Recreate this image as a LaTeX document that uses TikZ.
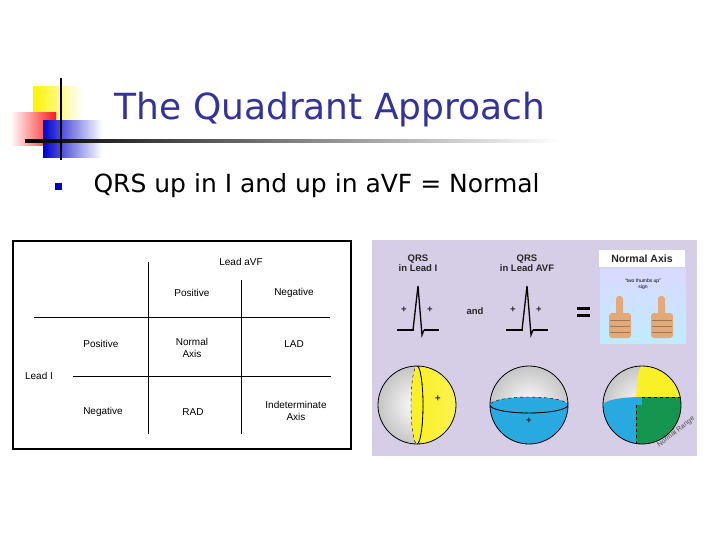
\documentclass[tikz,border=0pt]{standalone}
\usepackage{fontspec}
\setmainfont{Liberation Sans}
\newfontfamily\slidefont{DejaVu Sans}
\usetikzlibrary{calc}

\definecolor{titleblue}{RGB}{51,51,153}
\definecolor{panel}{RGB}{214,206,230}
\definecolor{ballblue}{RGB}{40,170,225}
\definecolor{ballyellow}{RGB}{250,240,40}
\definecolor{ballgreen}{RGB}{20,150,80}
\definecolor{skin}{RGB}{225,170,120}

\tikzset{
  cell/.style={font=\fontsize{10}{12}\selectfont, align=center},
  grid/.style={line width=0.8pt},
  qrs/.style={line width=1.3pt},
  qrsbase/.style={line width=2.6pt},
  lbl/.style={font=\bfseries\fontsize{9.5}{10.5}\selectfont, align=center, text=black!85},
}

\begin{document}
\begin{tikzpicture}[x=1pt,y=-1pt]
  \useasboundingbox (0,0) rectangle (720,540);

  % logo
  \shade[left color=yellow!90!orange, right color=white] (33,87) rectangle (82,121);
  \shade[left color=white, right color=red!90] (10,113) rectangle (56,146);
  \shade[left color=blue!80!black, right color=white] (43,121) rectangle (102,158);
  \shade[left color=black, right color=white] (25,140) rectangle (560,142.5);
  \draw[line width=1.6pt] (61,78) -- (61,160);

  \node (title) at (330,110) {\slidefont\fontsize{36}{40}\selectfont\color{titleblue}The Quadrant Approach};
  \fill[blue!75!black] (55,183) rectangle (62,190);
  \node[anchor=west] (point) at (90,186) {\slidefont\fontsize{25}{28}\selectfont QRS up in I and up in aVF = Normal};

  % table
  \draw[line width=1.2pt] (13,241) rectangle (351,449);
  \draw[grid] (148,262) -- (148,434);
  \draw[grid] (241,280) -- (241,434);
  \draw[grid] (34,317) -- (330,317);
  \draw[grid] (73,376) -- (331,376);
  \node[cell] (aVF) at (241,262) {Lead aVF};
  \node[cell] (pos1) at (192,293) {Positive};
  \node[cell] (neg1) at (294,293) {Negative};
  \node[cell] (pos2) at (101,344) {Positive};
  \node[cell] (norm) at (192,348) {Normal\\Axis};
  \node[cell] (lad) at (294,344) {LAD};
  \node[cell] (leadI) at (39,376) {Lead I};
  \node[cell] (neg2) at (103,412) {Negative};
  \node[cell] (rad) at (193,412) {RAD};
  \node[cell] (ind) at (296,411) {Indeterminate\\Axis};

  % panel
  \fill[panel] (372,240) rectangle (697,456);
  \node[lbl] (qI) at (418,263) {QRS\\in Lead I};
  \node[lbl] (qAVF) at (527,263) {QRS\\in Lead AVF};
  \foreach \cx/\nm in {418/I, 527/AVF} {
    \draw[qrsbase] (\cx-21,330) -- (\cx-4,330);
    \draw[qrsbase] (\cx+6,330) -- (\cx+21,330);
    \draw[qrs] (\cx-5,330) -- (\cx,286) -- (\cx+4,335) -- (\cx+6,330);
    \node[lbl] (p\nm a) at (\cx-14,310) {+};
    \node[lbl] (p\nm b) at (\cx+12,310) {+};
  }
  \node[lbl] (and) at (475,311) {and};
  \fill (577,307) rectangle (590,310);
  \fill (577,314) rectangle (590,317);

  % normal axis picture
  \fill[white] (599,250) rectangle (685,267);
  \node[lbl, font=\bfseries\fontsize{10.5}{12}\selectfont] (na) at (642,259) {Normal Axis};
  \shade[top color=blue!15, bottom color=blue!30!cyan!25] (600,268) rectangle (686,343);
  \node[font=\fontsize{5}{6}\selectfont, align=center] (sign) at (643,284) {``two thumbs up''\\sign};
  \foreach \tx in {620,662} {
    \fill[skin, rounded corners=3pt] (\tx-11,313) rectangle (\tx+11,338);
    \fill[skin, rounded corners=3pt] (\tx-4,296) rectangle (\tx+3,316);
    \draw[skin!70!black, line width=0.3pt] (\tx-10,320) -- (\tx+10,320) (\tx-10,326) -- (\tx+10,326) (\tx-10,332) -- (\tx+10,332);
  }

  % spheres
  \def\rr{39}
  % lead I
  \begin{scope}
    \clip (417,405) circle ({\rr});
    \shade[inner color=white, outer color=gray!45] (417,405) circle ({\rr});
    \shade[left color=ballyellow, right color=ballyellow!80!white] (417,360) rectangle (460,450);
    \fill[ballyellow] (417,405) ellipse (6 and {\rr});
    \draw[dashed, thin] (417,405) ellipse (6 and {\rr});
    \clip (417,360) rectangle (430,450);
    \draw[thick] (417,405) ellipse (6 and {\rr});
  \end{scope}
  \draw[thick] (417,405) circle ({\rr});
  \node[lbl] (s1) at (438,399) {+};
  % lead aVF
  \begin{scope}
    \clip (529,405) circle ({\rr});
    \shade[inner color=white, outer color=gray!45] (529,405) circle ({\rr});
    \fill[ballblue] (480,405) rectangle (580,450);
    \fill[ballblue] (529,405) ellipse ({\rr} and 8);
    \draw[dashed, thin] (529,405) ellipse ({\rr} and 8);
    \clip (480,405) rectangle (580,420);
    \draw[thick] (529,405) ellipse ({\rr} and 8);
  \end{scope}
  \draw[thick] (529,405) circle ({\rr});
  \node[lbl] (s2) at (529,421) {+};
  % normal range
  \begin{scope}
    \clip (642,405) circle ({\rr});
    \shade[inner color=white, outer color=gray!45] (642,405) circle ({\rr});
    \fill[ballyellow] (642,360) rectangle (690,405);
    \fill[ballyellow] (642,405) ellipse (6 and {\rr});
    \fill[ballblue] (590,405) rectangle (690,450);
    \fill[ballblue] (642,405) ellipse ({\rr} and 8);
    \fill[ballgreen] (642,405) rectangle (690,450);
    \fill[ballgreen] (636,405) rectangle (642,450);
    \fill[ballgreen] (642,397) rectangle (690,405);
    \draw[dashed, thin] (642,397) -- (682,397) (636,405) -- (636,445);
  \end{scope}
  \draw[thick] (642,405) circle ({\rr});
  \node[font=\fontsize{7}{8}\selectfont, text=black!70, rotate=38] (rng) at (676,432) {Normal Range};
\end{tikzpicture}
\end{document}
